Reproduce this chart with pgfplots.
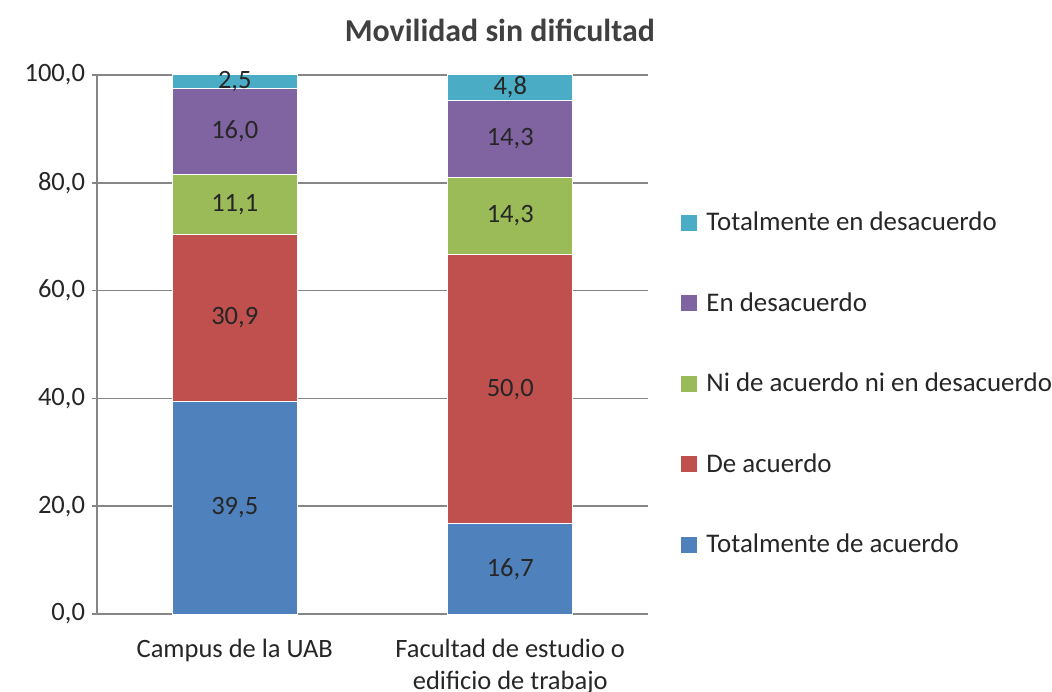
\documentclass[border=0pt]{standalone}
\usepackage{fontspec}
\setmainfont{Carlito}
\usepackage{pgfplots}
\usepackage{pgfplotstable}
\pgfplotsset{compat=1.18}

\definecolor{sBlue}{HTML}{4F81BD}
\definecolor{sRed}{HTML}{C0504D}
\definecolor{sGreen}{HTML}{9BBB59}
\definecolor{sPurple}{HTML}{8064A2}
\definecolor{sCyan}{HTML}{4BACC6}
\definecolor{gridgray}{HTML}{868686}
\definecolor{txt}{HTML}{262626}

% x: 0 = Campus de la UAB, 1 = Facultad de estudio o edificio de trabajo
\pgfplotstableread{
x  ta    da    ni    ed    td
0  39.5  30.9  11.1  16.0  2.5
1  16.7  50.0  14.3  14.3  4.8
}\datos

\pgfplotsset{
  seg/.style={fill=#1, draw=white, line width=0.5bp},
}

\begin{document}
\begin{tikzpicture}
\useasboundingbox (0,0) rectangle (526bp,346bp);
\begin{axis}[
  at={(48.5bp,39bp)}, anchor=south west,
  scale only axis, width=275.5bp, height=269.5bp,
  ybar stacked, bar width=62.5bp,
  xmin=-0.5, xmax=1.5, ymin=0, ymax=100,
  clip=false,
  xtick={0,1},
  xticklabels={Campus de la UAB, {Facultad de estudio o\\edificio de trabajo}},
  ytick={0,20,...,100},
  axis lines*=left,
  axis line style={gridgray, line width=0.75bp},
  ymajorgrids, major grid style={gridgray, line width=0.75bp},
  tick align=outside,
  major tick length=2.5bp,
  ytick style={draw=gridgray, line width=0.75bp},
  xtick style={draw=none},
  tick label style={font=\fontsize{13.3}{16}\selectfont, text=txt},
  xticklabel style={align=center, inner ysep=0pt, yshift=-10bp},
  /pgf/number format/use comma,
  /pgf/number format/fixed,
  /pgf/number format/fixed zerofill,
  /pgf/number format/precision=1,
  /pgf/number format/assume math mode=true,
  visualization depends on={rawy \as \val},
  nodes near coords={\pgfmathprintnumber{\val}},
  every node near coord/.append style={anchor=center,
    font=\fontsize{13.3}{15}\selectfont, text=txt},
  title={Movilidad sin dificultad},
  title style={at={(0.731,1.0816)}, anchor=center, yshift=-5.5bp,
    font=\bfseries\fontsize{16}{19}\selectfont, text=black!75},
  reverse legend,
  legend cell align=left,
  legend style={at={(1.06,0.427)}, anchor=west, draw=none, fill=none,
    inner sep=0pt, row sep=25.5bp,
    font=\fontsize{13.5}{15}\selectfont, text=txt,
    /tikz/every odd column/.style={column sep=2.5bp}},
  legend image code/.code={\fill[#1, draw=none] (0bp,-4bp) rectangle (8bp,4bp);},
]
\addplot[seg=sBlue]   table[x=x, y=ta] {\datos};
\addlegendentry{Totalmente de acuerdo}
\addplot[seg=sRed]    table[x=x, y=da] {\datos};
\addlegendentry{De acuerdo}
\addplot[seg=sGreen]  table[x=x, y=ni] {\datos};
\addlegendentry{Ni de acuerdo ni en desacuerdo}
\addplot[seg=sPurple] table[x=x, y=ed] {\datos};
\addlegendentry{En desacuerdo}
\addplot[seg=sCyan]   table[x=x, y=td] {\datos};
\addlegendentry{Totalmente en desacuerdo}
\end{axis}
\end{tikzpicture}
\end{document}
